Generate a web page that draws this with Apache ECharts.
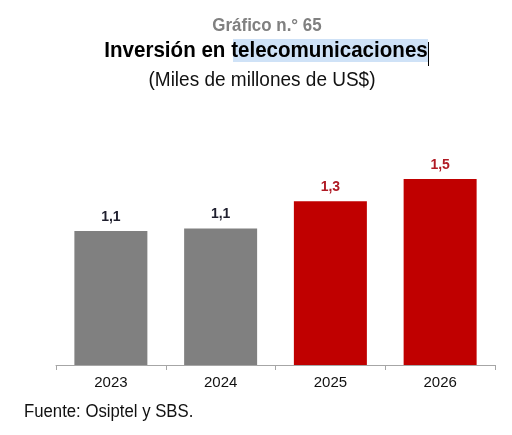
<!DOCTYPE html>
<html>
<head>
<meta charset="utf-8">
<script src="https://cdn.jsdelivr.net/npm/echarts@6/dist/echarts.min.js"></script>
<style>
  html, body { margin: 0; padding: 0; background: #fff; }
  #chart { width: 512px; height: 435px; }
</style>
</head>
<body>
<div id="chart"></div>
<script>
// data
const years = ['2023', '2024', '2025', '2026']
const inversion = [1.08, 1.1, 1.32, 1.5]
const barColors = ['#808080', '#808080', '#c00000', '#c00000']
const labelColors = ['#1f1f2e', '#1f1f2e', '#b01a24', '#b01a24']

const font = '"Liberation Sans", Arial, sans-serif'

// text drawn slightly condensed, like the narrow face of the original
function label(text, x, y, size, weight, color, sx, align) {
  return {
    type: 'text', x, y, scaleX: sx, z: 10,
    style: {
      text, fill: color,
      font: `${weight} ${size}px ${font}`,
      textAlign: align || 'center', textVerticalAlign: 'middle',
    },
  }
}

const chart = echarts.init(document.getElementById('chart'))

chart.setOption({
  backgroundColor: '#fff',
  animation: false,
  graphic: [
    // selection highlight + caret over the title
    { type: 'rect', z: 5, shape: { x: 233, y: 39, width: 195, height: 23 }, style: { fill: '#cfe2f7' } },
    { type: 'line', z: 11, shape: { x1: 428.5, y1: 42, x2: 428.5, y2: 66 }, style: { stroke: '#000', lineWidth: 1 } },
    label('Gráfico n.° 65', 267, 26, 18, 'bold', '#808080', 0.94),
    label('Inversión en telecomunicaciones', 266, 51, 22, 'bold', '#000', 0.935),
    label('(Miles de millones de US$)', 262, 80, 20, 'normal', '#111', 0.95),
    label('Fuente: Osiptel y SBS.', 24, 412, 18, 'normal', '#111', 0.93, 'left'),
  ],
  grid: { left: 56, right: 17, top: 117, bottom: 70 },
  xAxis: {
    type: 'category',
    data: years,
    axisLine: { lineStyle: { color: '#a6a6a6', width: 1 } },
    axisTick: { show: true, alignWithLabel: false, length: 5, lineStyle: { color: '#a6a6a6' } },
    axisLabel: { fontFamily: font, fontSize: 15, color: '#111', margin: 10 },
  },
  yAxis: {
    type: 'value', min: 0, max: 2, show: false, splitLine: { show: false },
  },
  series: [
    {
      type: 'bar',
      barWidth: 73,
      data: inversion.map((v, i) => ({
        value: v,
        itemStyle: { color: barColors[i] },
        label: { color: labelColors[i] },
      })),
      label: {
        show: true,
        position: 'top',
        distance: 7,
        fontFamily: font,
        fontSize: 14,
        fontWeight: 'bold',
        formatter: p => p.value.toFixed(1).replace('.', ','),
      },
    },
  ],
})
</script>
</body>
</html>
